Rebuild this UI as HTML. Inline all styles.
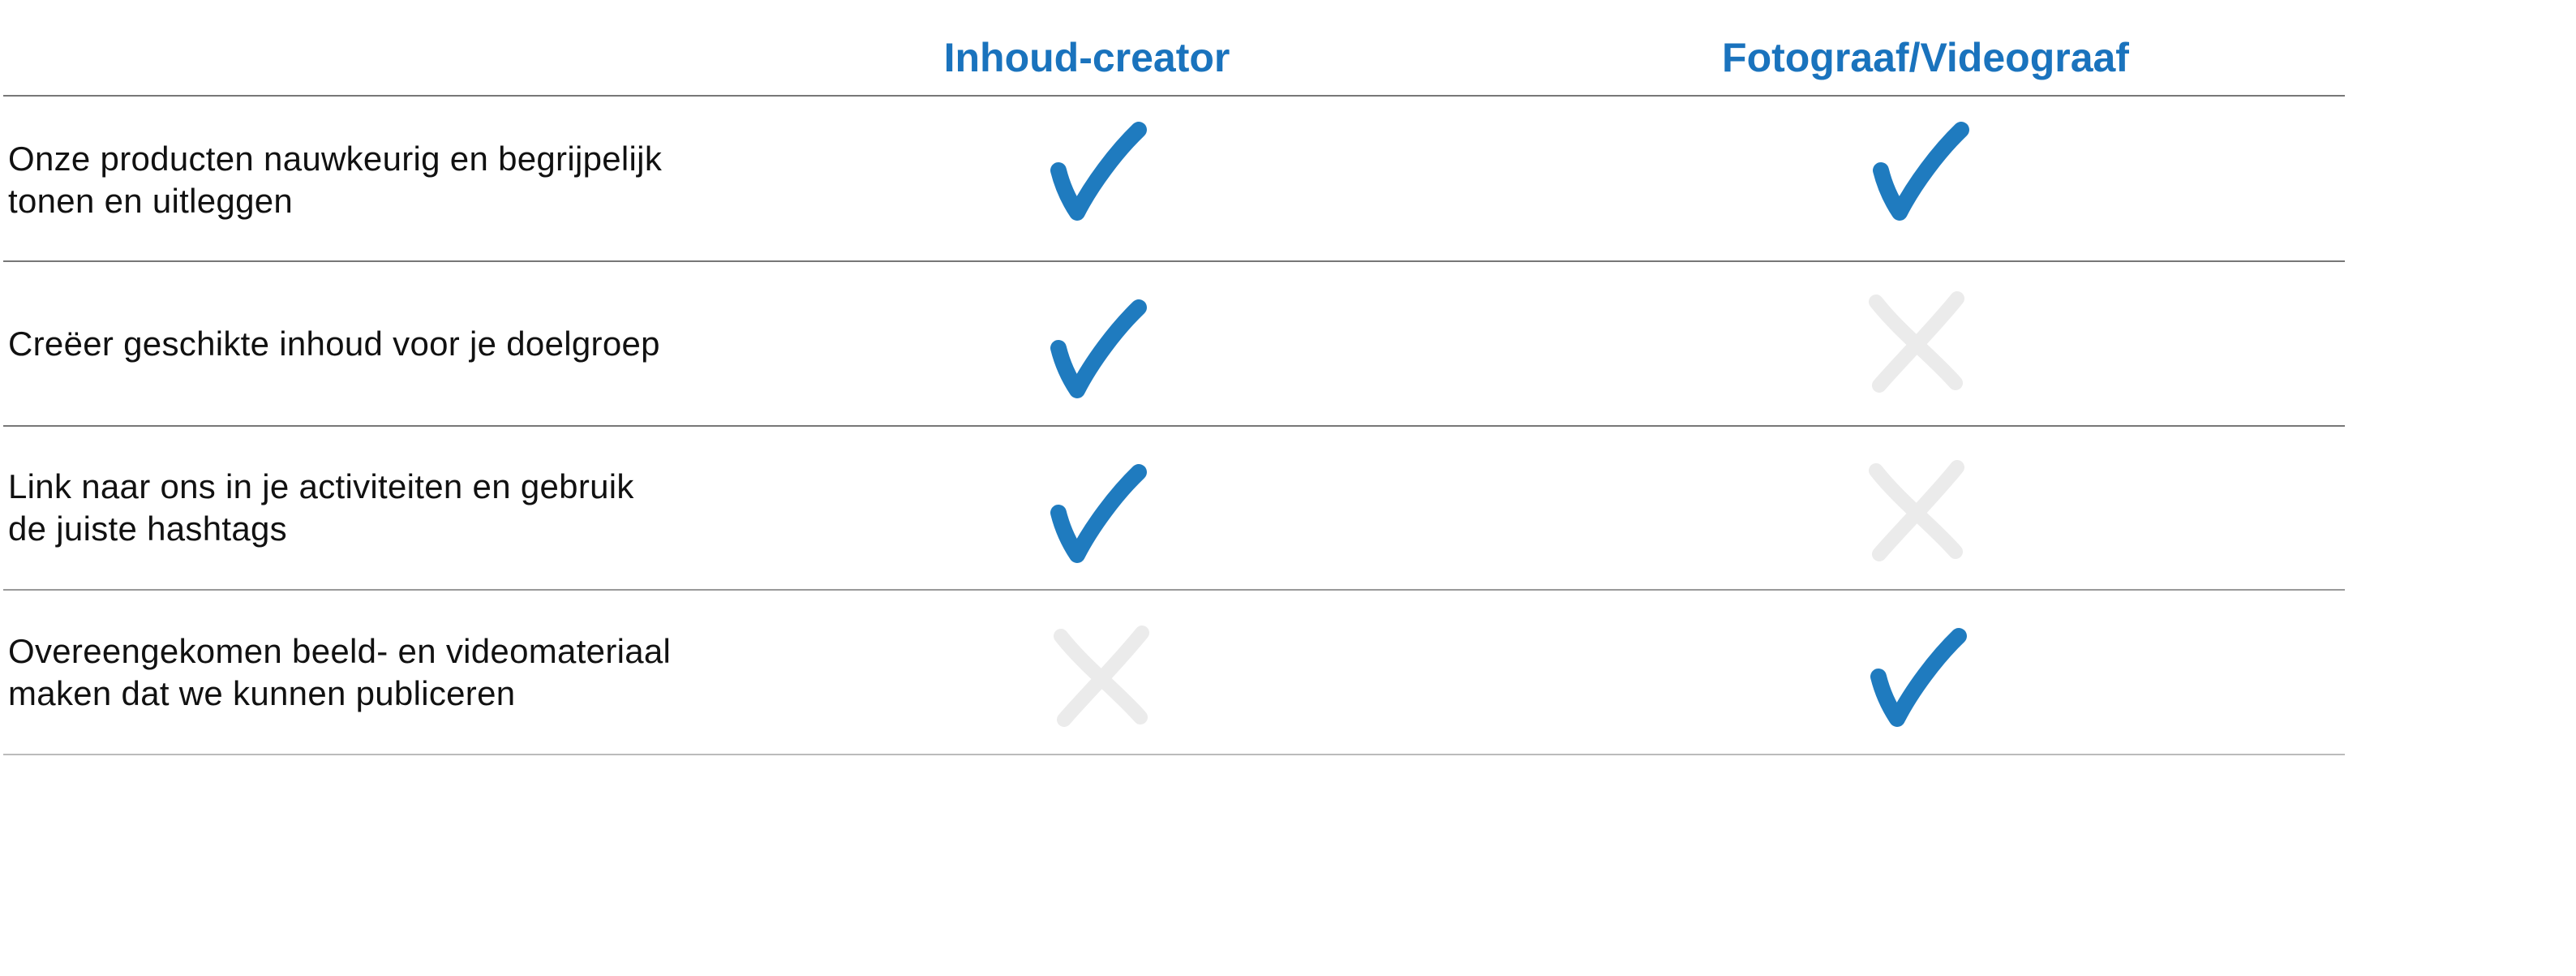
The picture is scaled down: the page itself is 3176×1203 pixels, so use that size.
<!DOCTYPE html>
<html><head><meta charset="utf-8"><style>
html,body{margin:0;padding:0;background:#fff;}
body{width:3176px;height:1203px;position:relative;overflow:hidden;font-family:"Liberation Sans",Arial,sans-serif;}
.h{position:absolute;top:42px;font-weight:bold;color:#1a73bd;font-size:50px;transform:translateX(-50%);white-space:nowrap;}
.t{position:absolute;left:10px;font-size:42px;line-height:52px;color:#111;white-space:nowrap;letter-spacing:0.3px;}
.l{position:absolute;left:4px;width:2887px;height:2px;background:#777;}
svg{position:absolute;left:0;top:0;}
</style></head><body>
<div class="h" style="left:1340px">Inhoud-creator</div>
<div class="h" style="left:2374px">Fotograaf/Videograaf</div>
<div class="l" style="top:117px"></div>
<div class="l" style="top:321px"></div>
<div class="l" style="top:524px"></div>
<div class="l" style="top:726px;background:#999"></div>
<div class="l" style="top:929px;background:#bbb"></div>
<div class="t" style="top:170px">Onze producten nauwkeurig en begrijpelijk<br>tonen en uitleggen</div>
<div class="t" style="top:398px">Creëer geschikte inhoud voor je doelgroep</div>
<div class="t" style="top:574px">Link naar ons in je activiteiten en gebruik<br>de juiste hashtags</div>
<div class="t" style="top:777px">Overeengekomen beeld- en videomateriaal<br>maken dat we kunnen publiceren</div>
<svg width="3176" height="1203" viewBox="0 0 3176 1203">
<defs>
<g id="ck"><path d="M9,58 C14,78 22,95 32,110 C50,75 80,35 108,8" fill="none" stroke="#1f7bbf" stroke-width="20" stroke-linecap="round" stroke-linejoin="round"/></g>
<g id="xx" fill="none" stroke="#ebebeb" stroke-width="18" stroke-linecap="round"><path d="M10,12 C40,50 80,80 108,112"/><path d="M110,8 C80,45 40,85 14,115"/></g>
</defs>
<use href="#ck" x="1296" y="152"/>
<use href="#ck" x="2310" y="152"/>
<use href="#ck" x="1296" y="371"/>
<use href="#xx" x="2303" y="360"/>
<use href="#ck" x="1296" y="574"/>
<use href="#xx" x="2303" y="568"/>
<use href="#xx" x="1298" y="772"/>
<use href="#ck" x="2307" y="776"/>
</svg>
</body></html>
